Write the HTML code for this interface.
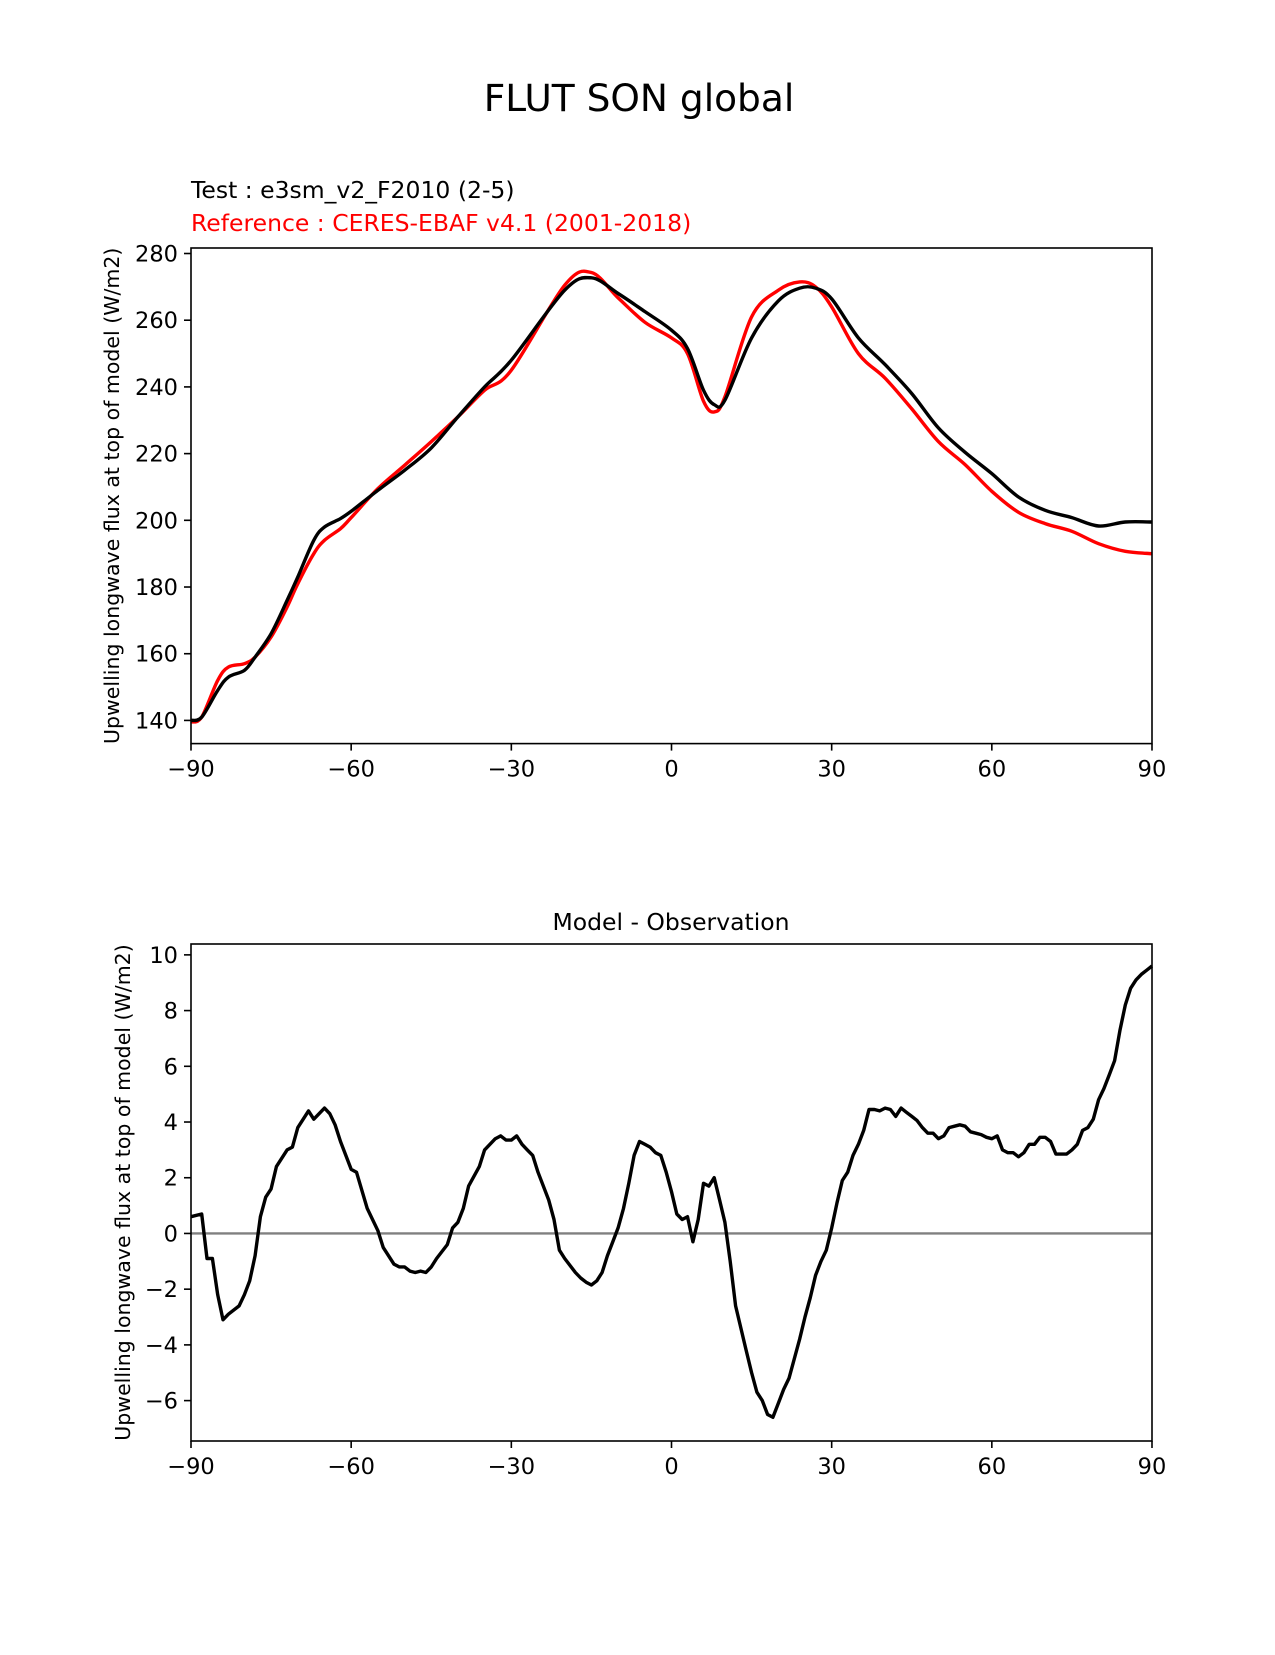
<!DOCTYPE html>
<html><head><meta charset="utf-8"><style>
body{margin:0;background:#fff}
svg text{font-family:"DejaVu Sans","Liberation Sans",sans-serif}
</style></head><body>
<svg id="fig" width="1275" height="1650" viewBox="0 0 1275 1650" xmlns="http://www.w3.org/2000/svg">
<rect width="1275" height="1650" fill="#fff"/>
<text x="639" y="111" font-size="37.5" text-anchor="middle">FLUT SON global</text>
<text x="191" y="198" font-size="23.5">Test : e3sm_v2_F2010 (2-5)</text>
<text x="191" y="231" font-size="23.5" fill="#ff0000">Reference : CERES-EBAF v4.1 (2001-2018)</text>
<text x="671" y="930" font-size="23.5" text-anchor="middle">Model - Observation</text>
<g id="top"></g>
<g id="bot"></g>
</svg>
<script>
const lats = [-90,-88,-85,-83,-80,-78,-75,-72,-70,-67,-65,-62,-60,-55,-50,-45,-40,-35,-30,-20,-15,-10,-5,0,3,6,8,10,15,20,24,27,30,35,40,45,50,55,60,65,70,75,80,85,90];
const testVals = [140,141,149,153,155,159,166,176,183,194,198,200.5,202.7,209,215,221.7,231,240,248,269,272.7,268,262.6,257,251.5,239,234.7,236,254.7,265.8,269.6,269.6,266.4,254.7,246.7,238,227.7,220.4,214,207,203,200.8,198.3,199.5,199.5];
const refVals = [139.5,141,152,156,157,159,165,174,181,190,194,197.5,200.8,209.5,216.5,223.6,231,239,245,270.5,274.3,266.7,259.4,254.7,250,235.7,232.5,237,261,269,271.5,270,264,250,242.6,233.4,223.6,216.7,208.7,202.4,199,196.7,193,190.7,190];
const topYTicks = [140,160,180,200,220,240,260,280];
const xTicks = [-90,-60,-30,0,30,60,90];
const xTickLabels = ["\u221290","\u221260","\u221230","0","30","60","90"];
const diffLats = [-90,-88,-87,-86,-85,-84,-83,-81,-80,-79,-78,-77,-76,-75,-74,-72,-71,-70,-68,-67,-65,-64,-63,-62,-60,-59,-57,-55,-54,-52,-51,-50,-49,-48,-47,-46,-45,-44,-42,-41,-40,-39,-38,-36,-35,-33,-32,-31,-30,-29,-28,-27,-26,-25,-23,-22,-21,-20,-18,-17,-16,-15,-14,-13,-12,-11,-10,-9,-8,-7,-6,-5,-4,-3,-2,-1,0,1,2,3,4,5,6,7,8,9,10,11,12,14,15,16,17,18,19,20,21,22,23,24,25,26,27,28,29,30,31,32,33,34,35,36,37,38,39,40,41,42,43,44,45,46,47,48,49,50,51,52,53,54,55,56,57,58,59,60,61,62,63,64,65,66,67,68,69,70,71,72,73,74,75,76,77,78,79,80,81,82,83,84,85,86,87,88,89,90];
const diffVals = [0.6,0.7,-0.9,-0.9,-2.2,-3.1,-2.9,-2.6,-2.2,-1.7,-0.8,0.6,1.3,1.6,2.4,3.0,3.1,3.8,4.4,4.1,4.5,4.3,3.9,3.3,2.3,2.2,0.9,0.1,-0.5,-1.1,-1.2,-1.2,-1.35,-1.4,-1.35,-1.4,-1.2,-0.9,-0.4,0.2,0.4,0.9,1.7,2.4,3.0,3.4,3.5,3.35,3.35,3.5,3.2,3.0,2.8,2.2,1.2,0.5,-0.6,-0.9,-1.4,-1.6,-1.75,-1.85,-1.7,-1.4,-0.8,-0.3,0.2,0.9,1.8,2.8,3.3,3.2,3.1,2.9,2.8,2.2,1.5,0.7,0.5,0.6,-0.3,0.5,1.8,1.7,2.0,1.2,0.4,-1.0,-2.6,-4.2,-5.0,-5.7,-6.0,-6.5,-6.6,-6.1,-5.6,-5.2,-4.5,-3.8,-3.0,-2.3,-1.5,-1.0,-0.6,0.2,1.1,1.9,2.2,2.8,3.2,3.7,4.45,4.45,4.4,4.5,4.45,4.2,4.5,4.35,4.2,4.05,3.8,3.6,3.6,3.4,3.5,3.8,3.85,3.9,3.85,3.65,3.6,3.55,3.45,3.4,3.5,3.0,2.9,2.9,2.75,2.9,3.2,3.2,3.45,3.45,3.3,2.85,2.85,2.85,3.0,3.2,3.7,3.8,4.1,4.8,5.2,5.7,6.2,7.3,8.2,8.8,9.1,9.3,9.45,9.6];
const botYTicks = [-6,-4,-2,0,2,4,6,8,10];

const NS='http://www.w3.org/2000/svg';
function mk(parent,tag,attrs){const e=document.createElementNS(NS,tag);for(const k in attrs)e.setAttribute(k,attrs[k]);parent.appendChild(e);return e;}

function drawAxes(g,L,R,T,B,ymin,ymax,yTicks,ylabel,ylx,name){
  const sx=v=>L+(v+90)/180*(R-L);
  const sy=v=>B-(v-ymin)/(ymax-ymin)*(B-T);
  xTicks.forEach((v,i)=>{
    const t=mk(g,'line',{x1:sx(v),x2:sx(v),y1:B,y2:B+7,stroke:'#000','stroke-width':1.6});
    
    
    const tx=mk(g,'text',{x:sx(v),y:B+33,'font-size':22.5,'text-anchor':'middle'});
    tx.textContent=xTickLabels[i];
    
    
  });
  yTicks.forEach(v=>{
    const t=mk(g,'line',{x1:L-7,x2:L,y1:sy(v),y2:sy(v),stroke:'#000','stroke-width':1.6});
    
    
    const tx=mk(g,'text',{x:L-13,y:sy(v)+8,'font-size':22.5,'text-anchor':'end'});
    tx.textContent=v<0?'\u2212'+Math.abs(v):String(v);
    
    
  });
  const yl=mk(g,'text',{x:ylx,y:(T+B)/2,'font-size':20.5,'text-anchor':'middle',transform:`rotate(-90 ${ylx} ${(T+B)/2})`});
  yl.textContent=ylabel;
  
  
  return {sx,sy};
}
function line(g,xs,ys,sx,sy,color,w,name,smooth){
  const P=xs.map((x,i)=>[sx(x),sy(ys[i])]);
  let d='M'+P[0][0].toFixed(1)+' '+P[0][1].toFixed(1);
  for(let i=0;i<P.length-1;i++){
    if(!smooth){d+=' L'+P[i+1][0].toFixed(1)+' '+P[i+1][1].toFixed(1);continue;}
    const p0=P[Math.max(0,i-1)],p1=P[i],p2=P[i+1],p3=P[Math.min(P.length-1,i+2)];
    const c1=[p1[0]+(p2[0]-p0[0])/6,p1[1]+(p2[1]-p0[1])/6];
    const c2=[p2[0]-(p3[0]-p1[0])/6,p2[1]-(p3[1]-p1[1])/6];
    d+=` C${c1[0].toFixed(1)} ${c1[1].toFixed(1)} ${c2[0].toFixed(1)} ${c2[1].toFixed(1)} ${p2[0].toFixed(1)} ${p2[1].toFixed(1)}`;
  }
  const p=mk(g,'path',{d:d,fill:'none',stroke:color,'stroke-width':w,'stroke-linejoin':'round'});
  
  
}
function frame(g,L,R,T,B,name){
  const r=mk(g,'rect',{x:L,y:T,width:R-L,height:B-T,fill:'none',stroke:'#000','stroke-width':1.6});
  
  
}
const ylab='Upwelling longwave flux at top of model (W/m2)';
const gt=document.getElementById('top');
const A=drawAxes(gt,191,1152,248,743.6,133.05,281.65,topYTicks,ylab,119,'top');
line(gt,lats,refVals,A.sx,A.sy,'#ff0000',3.4,'reference-line',true);
line(gt,lats,testVals,A.sx,A.sy,'#000',3.4,'test-line',true);
frame(gt,191,1152,248,743.6,'top');
const gb=document.getElementById('bot');
const Bx=drawAxes(gb,191,1152,944,1441,-7.45,10.39,botYTicks,ylab,130,'bottom');
const z=mk(gb,'line',{x1:191,x2:1152,y1:Bx.sy(0),y2:Bx.sy(0),stroke:'#808080','stroke-width':2.4});


line(gb,diffLats,diffVals,Bx.sx,Bx.sy,'#000',3.4,'difference-line',false);
frame(gb,191,1152,944,1441,'bottom');
</script>
</body></html>
